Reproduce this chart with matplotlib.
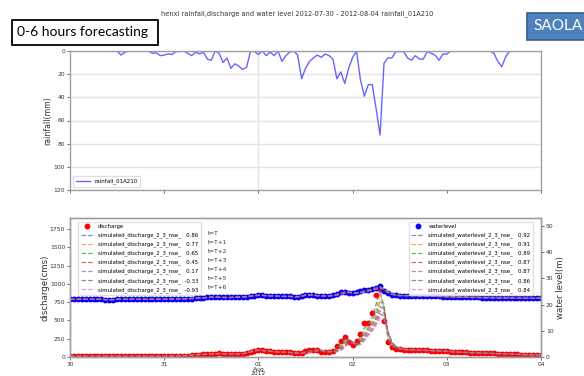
import numpy as np
import pandas as pd
import matplotlib
matplotlib.use("Agg")
import matplotlib.pyplot as plt
from matplotlib.patches import Rectangle

# ---- hourly series, 2012-07-30 00:00 .. 2012-08-04 00:00 ----
start_time = "2012-07-30 00:00"
n_hours = 121

rainfall = [
    0, 0, 0, 0, 0, 0, 0, 0, 0, 0, 0, 0,
    0, 3.5, 1, 0, 0, 0, 0, 0,
    0, 2, 1.5, 4, 3.5, 2.5, 3, 0.5, 0.5, 0, 2, 4, 1, 2.5, 1, 7, 8, 0, 2, 10,
    6, 15, 11, 13, 16, 14, 0, 0.5, 3, 0, 4, 1, 4, 0, 9, 4, 1, 0, 3.5, 24,
    15, 9, 6, 3.5, 5.5, 2.6, 4, 7, 24, 18, 28, 15, 5.5, 0, 25, 39, 29, 29, 50, 72.5,
    10.6, 6, 6, 0.5, 0.5, 0.5, 6, 8, 4, 7, 7, 0.5, 2, 3.5, 8, 2.6, 2.6, 0,
    0, 0, 0, 0, 0, 0, 0, 0, 0, 0, 2, 9, 13.5, 5, 0, 0, 0, 0, 0, 0, 0, 0, 0,
]

discharge = [
    10, 10, 10, 9, 9, 9, 9, 9, 9, 9,
    9, 9, 9, 9, 9, 9, 9, 9, 9, 9,
    9, 9, 9, 9, 10, 10, 12, 14, 16, 18,
    20, 25, 30, 33, 35, 38, 42, 45, 48, 44,
    40, 38, 40, 42, 45, 55, 70, 85, 92, 90,
    85, 78, 72, 68, 66, 64, 62, 58, 55, 55,
    80, 101, 101, 90, 75, 68, 68, 80, 151, 220,
    275, 206, 160, 220, 312, 459, 467, 596, 848, 930,
    495, 206, 137, 115, 106, 100, 97, 95, 93, 92,
    92, 90, 88, 85, 82, 80, 76, 72, 68, 66,
    64, 62, 60, 58, 56, 54, 52, 50, 48, 46,
    44, 42, 40, 38, 36, 34, 32, 30, 28, 26,
    25,
]

waterlevel = [
    22.0, 22.0, 22.0, 22.0, 22.0, 22.0, 22.0, 22.0, 22.0, 21.9, 21.8, 21.9,
    22.0, 22.0, 22.0, 22.0, 22.0, 22.0, 22.0, 22.0, 22.0, 22.0, 22.0, 22.0,
    22.0, 22.0, 22.1, 22.1, 22.2, 22.2, 22.3, 22.3, 22.4, 22.5, 22.6, 22.7,
    22.8, 22.8, 22.8, 22.7, 22.7, 22.7, 22.8, 22.8, 22.9, 23.0, 23.2, 23.4,
    23.5, 23.5, 23.4, 23.3, 23.2, 23.2, 23.1, 23.1, 23.1, 23.0, 23.0, 23.2,
    23.6, 23.7, 23.6, 23.4, 23.3, 23.3, 23.4, 23.7, 24.1, 24.6, 24.9, 24.5,
    24.3, 24.6, 25.0, 25.4, 25.7, 26.0, 26.5, 27.0, 25.3, 24.3, 23.8, 23.5,
    23.4, 23.4, 23.4, 23.4, 23.4, 23.3, 23.3, 23.2, 23.2, 23.1, 23.1, 23.0,
    23.0, 22.9, 22.9, 22.8, 22.8, 22.8, 22.7, 22.7, 22.7, 22.6, 22.6, 22.6,
    22.6, 22.5, 22.5, 22.5, 22.5, 22.5, 22.4, 22.4, 22.4, 22.4, 22.4, 22.4, 22.4,
]

# simulated discharge during the flood event (hour 60 .. 92); elsewhere the
# simulations lie on the observed values
q_event_start = 60
sim_discharge_event = [
    [72, 90, 100, 95, 80, 70, 68, 75, 125, 195, 255, 235, 175, 195, 275, 400, 450,
     545, 720, 920, 640, 240, 150, 120, 108, 100, 97, 95, 93, 92, 91, 89, 87],
    [68, 82, 98, 97, 85, 73, 68, 72, 105, 165, 230, 240, 190, 180, 245, 350, 430,
     500, 640, 870, 720, 280, 160, 125, 110, 102, 98, 95, 93, 92, 91, 89, 87],
    [65, 76, 92, 97, 88, 76, 69, 70, 92, 140, 205, 235, 200, 170, 220, 310, 400,
     460, 580, 770, 700, 320, 175, 130, 112, 103, 98, 96, 94, 92, 91, 89, 87],
    [62, 72, 86, 95, 90, 79, 71, 69, 84, 120, 180, 225, 205, 165, 200, 280, 370,
     430, 530, 690, 650, 340, 190, 138, 115, 104, 99, 96, 94, 92, 91, 89, 87],
    [60, 68, 80, 92, 90, 82, 73, 69, 78, 105, 160, 210, 205, 165, 185, 255, 340,
     400, 490, 630, 600, 350, 200, 145, 118, 106, 100, 96, 94, 92, 91, 89, 87],
    [58, 65, 75, 88, 89, 83, 75, 70, 74, 95, 140, 195, 200, 165, 175, 235, 310,
     375, 460, 590, 560, 350, 205, 150, 120, 107, 100, 97, 94, 92, 91, 89, 87],
    [56, 62, 70, 84, 87, 84, 77, 71, 72, 88, 125, 180, 195, 165, 168, 220, 290,
     350, 430, 540, 520, 340, 205, 152, 122, 108, 101, 97, 94, 92, 91, 89, 87],
]
nse_discharge = [0.86, 0.77, 0.65, 0.45, 0.17, -0.33, -0.93]

wl_event_start = 64
sim_waterlevel_event = [
    [23.3, 23.3, 23.4, 23.6, 24.0, 24.5, 24.8, 24.6, 24.3, 24.5, 24.9, 25.3, 25.6, 25.9, 26.4, 26.9, 25.6, 24.4, 23.8, 23.5, 23.4],
    [23.3, 23.3, 23.4, 23.5, 23.9, 24.4, 24.8, 24.7, 24.4, 24.5, 24.8, 25.2, 25.5, 25.8, 26.3, 26.8, 25.8, 24.5, 23.9, 23.5, 23.4],
    [23.3, 23.3, 23.4, 23.5, 23.8, 24.3, 24.7, 24.7, 24.4, 24.4, 24.7, 25.1, 25.5, 25.8, 26.2, 26.7, 25.9, 24.6, 23.9, 23.6, 23.4],
    [23.3, 23.3, 23.3, 23.5, 23.8, 24.2, 24.6, 24.7, 24.5, 24.4, 24.6, 25.0, 25.4, 25.7, 26.1, 26.6, 26.0, 24.7, 24.0, 23.6, 23.4],
    [23.3, 23.3, 23.3, 23.4, 23.7, 24.1, 24.5, 24.7, 24.5, 24.4, 24.6, 24.9, 25.3, 25.7, 26.0, 26.5, 26.0, 24.8, 24.0, 23.6, 23.4],
    [23.3, 23.3, 23.3, 23.4, 23.7, 24.0, 24.4, 24.6, 24.5, 24.4, 24.5, 24.8, 25.2, 25.6, 25.9, 26.4, 26.0, 24.9, 24.1, 23.7, 23.4],
    [23.3, 23.3, 23.3, 23.4, 23.6, 23.9, 24.3, 24.6, 24.5, 24.4, 24.5, 24.7, 25.1, 25.5, 25.8, 26.3, 26.0, 25.0, 24.2, 23.7, 23.5],
]
nse_waterlevel = [0.92, 0.91, 0.89, 0.87, 0.87, 0.86, 0.84]

lead_labels = ["t=T", "t=T+1", "t=T+2", "t=T+3", "t=T+4", "t=T+5", "t=T+6"]
day_ticks = ["2012-07-30", "2012-07-31", "2012-08-01", "2012-08-02", "2012-08-03", "2012-08-04"]
day_labels = ["30", "31", "01\nAug\n2012", "02", "03", "04"]

title_text = "henxi rainfall,discharge and water level 2012-07-30 - 2012-08-04 rainfall_01A210"


def with_event(observed, start, event):
    series = np.array(observed, dtype=float)
    series[start:start + len(event)] = event
    return series


times = pd.date_range(start_time, periods=n_hours, freq="h")
tick_times = pd.to_datetime(day_ticks)

plt.rcParams["font.family"] = ["DejaVu Sans"]
W, H = 584, 376
fig = plt.figure(figsize=(W / 100, H / 100), dpi=100)

spine_col = "#a0a0a0"
tick_fs = 4.3


def style_axes(ax):
    for s in ax.spines.values():
        s.set_color(spine_col)
        s.set_linewidth(1.0)
    ax.tick_params(colors="#555555", labelsize=tick_fs, length=2, width=0.6,
                   labelcolor="#333333", pad=1.5)


# ---- rainfall panel ----
ax1 = fig.add_axes([70 / W, 1 - 190 / H, 471 / W, 139 / H])
ax1.plot(times, rainfall, color="#3333ff", alpha=0.75, lw=1.0, label="rainfall_01A210")
ax1.set_ylim(120, 0)
ax1.set_yticks(np.arange(0, 121, 20))
ax1.set_xlim(tick_times[0], tick_times[-1])
ax1.set_xticks([tick_times[2]])
ax1.set_xticks(tick_times, minor=True)
ax1.set_xticklabels([])
ax1.tick_params(axis="x", which="minor", length=2, color="#555555")
ax1.grid(True, which="major", color="#e4e4e4", lw=1.0)
ax1.set_axisbelow(True)
style_axes(ax1)
ax1.set_ylabel("rainfall(mm)", fontsize=5.6, color="#333333", labelpad=1)
ax1.legend(loc="lower left", fontsize=4.0, frameon=True, borderpad=0.5,
           handlelength=2.6, framealpha=0.9, edgecolor="#dddddd",
           bbox_to_anchor=(0.0, 0.0))

# ---- discharge / water level panel ----
ax2 = fig.add_axes([70 / W, 1 - 357 / H, 471 / W, 139 / H])
ax3 = ax2.twinx()

ax2.plot(times, discharge, "o", color="red", ms=3.2, label="discharge", zorder=2)
for i, (ev, nse) in enumerate(zip(sim_discharge_event, nse_discharge)):
    sim = with_event(discharge, q_event_start, ev)
    ax2.plot(times, sim, "--", color=f"C{i}", lw=0.9, alpha=0.7,
             label=f"simulated_discharge_2_3_nse_  {nse:5.2f}", zorder=3)

ax3.plot(times, waterlevel, "o", color="blue", ms=3.2, label="waterlevel", zorder=2)
for i, (ev, nse) in enumerate(zip(sim_waterlevel_event, nse_waterlevel)):
    sim = with_event(waterlevel, wl_event_start, ev)
    ax3.plot(times, sim, "--", color=f"C{i}", lw=0.9, alpha=0.7,
             label=f"simulated_waterlevel_2_3_nse_  {nse:5.2f}", zorder=3)

ax2.set_ylim(0, 1900)
ax2.set_yticks(np.arange(0, 1751, 250))
ax3.set_ylim(0, 53)
ax3.set_yticks(np.arange(0, 51, 10))
ax2.set_xlim(tick_times[0], tick_times[-1])
ax2.set_xticks(tick_times)
ax2.set_xticklabels(day_labels, linespacing=0.95)
style_axes(ax2)
style_axes(ax3)
ax2.set_ylabel("discharge(cms)", fontsize=6.2, color="#333333", labelpad=0)
ax3.set_ylabel("water level(m)", fontsize=6.2, color="#333333", labelpad=2)

leg_kw = dict(fontsize=3.9, frameon=True, borderpad=0.4, labelspacing=0.62,
              handlelength=2.4, handletextpad=0.8, framealpha=0.9,
              edgecolor="#dddddd", markerscale=1.0)
leg2 = ax2.legend(loc="upper left", bbox_to_anchor=(0.012, 0.99), **leg_kw)
leg3 = ax3.legend(loc="upper right", bbox_to_anchor=(0.988, 0.99), **leg_kw)

for j, lab in enumerate(lead_labels):
    ax2.text(0.293, (357 - (233.3 + j * 9.0)) / 139, lab, transform=ax2.transAxes,
             fontsize=4.2, color="#333333", va="center", ha="left", zorder=10)

# ---- figure annotations ----
fig.text(297 / W, 1 - 14 / H, title_text, fontsize=4.75, color="#333333",
         ha="center", va="center")

fig.patches.append(Rectangle((12 / W, 1 - 45 / H), 146 / W, 25 / H,
                             transform=fig.transFigure, facecolor="white",
                             edgecolor="black", lw=1.3))
fig.text(17 / W, 1 - 32.5 / H, "0-6 hours forecasting", fontsize=10,
         family=["Lato", "DejaVu Sans"], color="black", ha="left", va="center")

fig.patches.append(Rectangle((527 / W, 1 - 39.5 / H), 70 / W, 26.5 / H,
                             transform=fig.transFigure, facecolor="#4f81bd",
                             edgecolor="#385d8a", lw=1.2))
fig.text(533 / W, 1 - 26.5 / H, "SAOLA", fontsize=11,
         family=["Lato", "DejaVu Sans"], color="white", ha="left", va="center")

fig.savefig("out.png", dpi=100)
